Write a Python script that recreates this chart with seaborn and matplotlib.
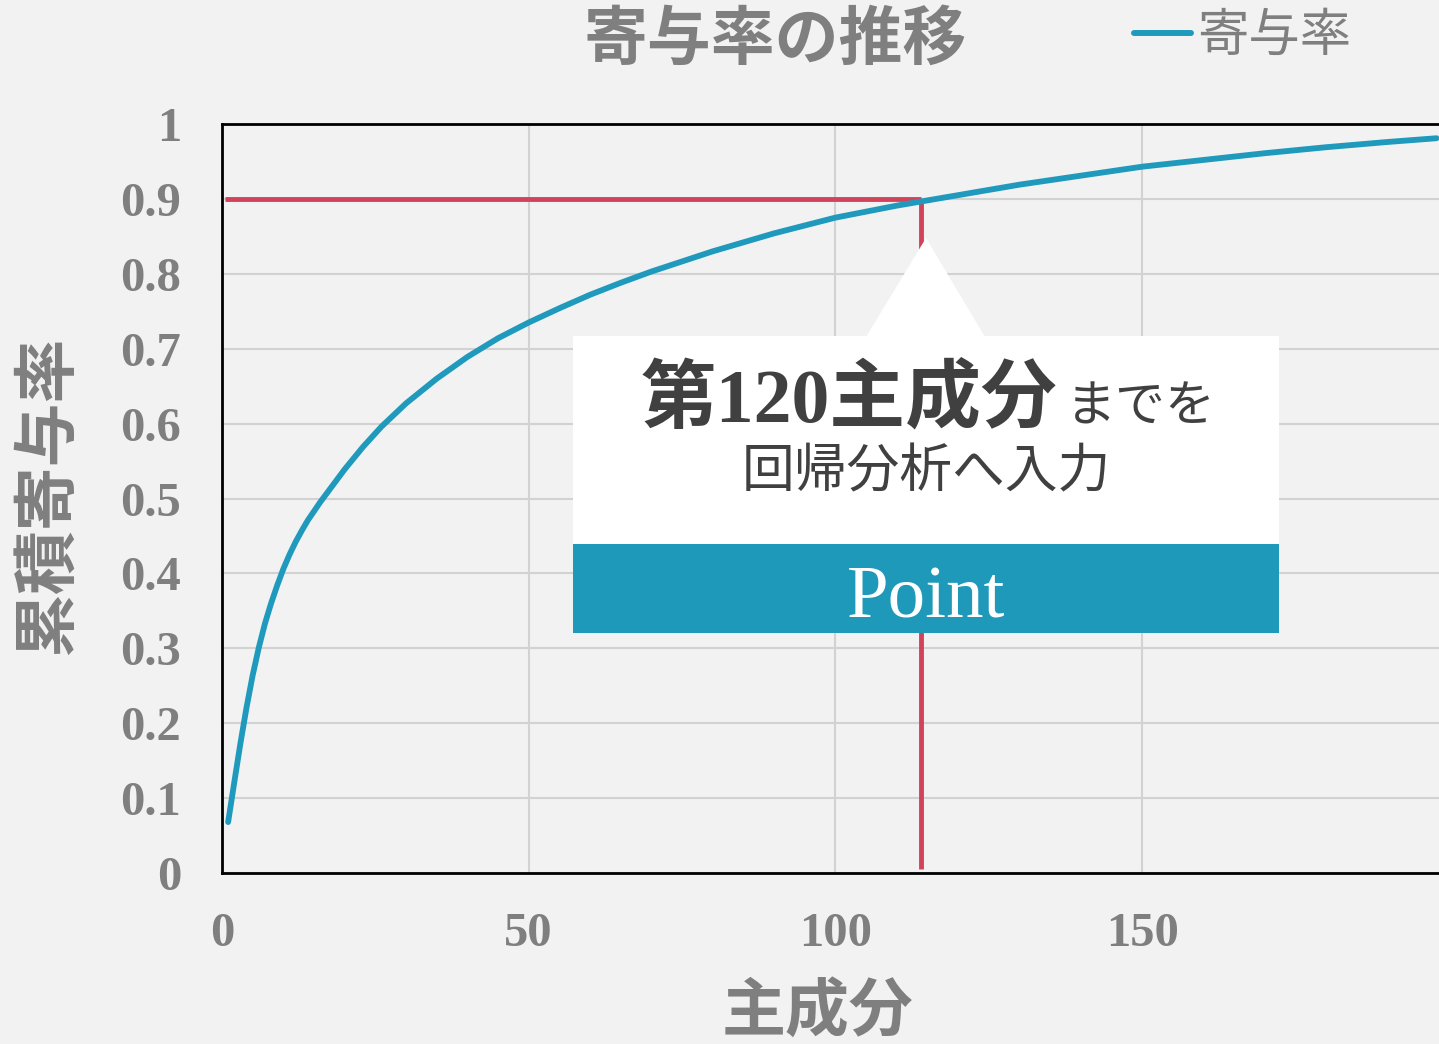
import matplotlib
matplotlib.use("Agg")
import matplotlib.pyplot as plt
import seaborn as sns
import pandas as pd
from matplotlib.patches import Rectangle, Polygon

# ---- data ----
components = [1, 2, 3, 4, 5, 6, 7, 8, 9, 10, 11, 12, 13, 14, 16, 18, 20, 23, 26, 30, 35, 40, 45,
              50, 55, 60, 65, 70, 80, 90, 100, 110, 120, 130, 140, 150, 160, 170, 180, 190, 198]
cum_ratio = [0.068, 0.121, 0.173, 0.221, 0.264, 0.301, 0.333, 0.360, 0.384, 0.406, 0.425,
             0.442, 0.457, 0.471, 0.495, 0.517, 0.539, 0.569, 0.596, 0.627, 0.660, 0.689,
             0.714, 0.735, 0.754, 0.772, 0.788, 0.803, 0.830, 0.854, 0.875, 0.891, 0.905,
             0.919, 0.931, 0.943, 0.952, 0.961, 0.969, 0.976, 0.981]
threshold = 0.9
cut_component = 114
x_ticks = [0, 50, 100, 150]
y_ticks = [0, 0.1, 0.2, 0.3, 0.4, 0.5, 0.6, 0.7, 0.8, 0.9, 1.0]
y_tick_labels = ["0", "0.1", "0.2", "0.3", "0.4", "0.5", "0.6", "0.7", "0.8", "0.9", "1"]
series_name = "寄与率"

df = pd.DataFrame({"主成分": components, "累積寄与率": cum_ratio})

BG = "#F2F2F2"
GRAY = "#7F7F7F"
BLUE = "#1F9ABD"
RED = "#D1435B"
DARK = "#404040"
CJK = ["Noto Sans CJK JP", "DejaVu Sans"]
SERIF_CJK = ["Liberation Serif", "Noto Sans CJK JP"]

sns.set_theme(style="white")
plt.rcParams["font.family"] = CJK

W, H = 1439, 1044
fig = plt.figure(figsize=(W / 100, H / 100), dpi=100, facecolor=BG)
ax = fig.add_axes([222 / W, (H - 873) / H, (W - 222) / W, (873 - 124) / H])
ax.set_facecolor(BG)

sns.lineplot(data=df, x="主成分", y="累積寄与率", ax=ax, color=BLUE, linewidth=4.2,
             label=series_name, solid_capstyle="round", solid_joinstyle="round", zorder=3)
ax.plot([0.5, cut_component], [threshold, threshold], color=RED, linewidth=3.5, zorder=2,
        solid_capstyle="butt")
ax.plot([cut_component, cut_component], [0.005, threshold], color=RED, linewidth=3.5, zorder=2,
        solid_capstyle="butt")

ax.set_xlim(0, 198.4)
ax.set_ylim(0, 1)
ax.set_xticks(x_ticks)
ax.set_yticks(y_ticks)
ax.set_yticklabels(y_tick_labels)
ax.grid(True, color="#D2D2D2", linewidth=1.5)
ax.set_axisbelow(True)
ax.tick_params(axis="both", length=0, labelcolor=GRAY)
ax.tick_params(axis="y", pad=29.5)
ax.tick_params(axis="x", pad=28)
for lab in ax.get_xticklabels() + ax.get_yticklabels():
    lab.set_fontfamily(["Liberation Serif"])
    lab.set_fontweight("bold")
    lab.set_fontsize(35)
for s in ["left", "bottom", "top"]:
    ax.spines[s].set_color("black")
    ax.spines[s].set_linewidth(2.0)
ax.spines["right"].set_visible(False)
ax.set_xlabel("")
ax.set_ylabel("")

# axis labels & title
fig.text(47 / W, 1 - 495 / H, "累積寄与率", rotation=90, ha="center", va="center",
         fontsize=46, fontweight="bold", color=GRAY, family=CJK)
fig.text(817 / W, 1 - 1012 / H, "主成分", ha="center", va="center",
         fontsize=46, fontweight="bold", color=GRAY, family=CJK)
fig.text(775 / W, 1 - 40 / H, "寄与率の推移", ha="center", va="center",
         fontsize=46, fontweight="bold", color=GRAY, family=CJK)

# legend
leg = ax.legend(loc="center left", bbox_to_anchor=(1134 / W, 1 - 36 / H),
                bbox_transform=fig.transFigure, frameon=False, handlelength=1.1,
                handletextpad=0.12, borderpad=0, borderaxespad=0,
                prop={"family": CJK, "size": 37})
for t in leg.get_texts():
    t.set_color(GRAY)
for l in leg.get_lines():
    l.set_linewidth(4.3)
    l.set_solid_capstyle("round")

# callout box
def fx(px):
    return px / W

def fy(py):
    return 1 - py / H

fig.add_artist(Polygon([(fx(926), fy(238)), (fx(866), fy(337)), (fx(985), fy(337))],
                       closed=True, transform=fig.transFigure, facecolor="white",
                       edgecolor="none", zorder=5))
fig.add_artist(Rectangle((fx(573), fy(544)), fx(1279) - fx(573), fy(336) - fy(544),
                         transform=fig.transFigure, facecolor="white", edgecolor="none", zorder=5))
fig.add_artist(Rectangle((fx(573), fy(633)), fx(1279) - fx(573), fy(544) - fy(633),
                         transform=fig.transFigure, facecolor="#1F99BA", edgecolor="none", zorder=5))

t1 = fig.text(fx(641), fy(421), "第120主成分", ha="left", va="baseline", fontsize=54.5,
              fontweight="bold", color=DARK, family=SERIF_CJK, zorder=6)
fig.canvas.draw()
bb = t1.get_window_extent()
fig.text(bb.x1 / W + 8 / W, fy(421), "までを", ha="left", va="baseline", fontsize=36,
         color=DARK, family=CJK, zorder=6)
fig.text(fx(926), fy(472), "回帰分析へ入力", ha="center", va="center", fontsize=38,
         color=DARK, family=CJK, zorder=6)
fig.text(fx(926), fy(617), "Point", ha="center", va="baseline", fontsize=54,
         color="white", family=["Liberation Serif"], zorder=6)

fig.savefig("out.png", dpi=100, facecolor=BG)
